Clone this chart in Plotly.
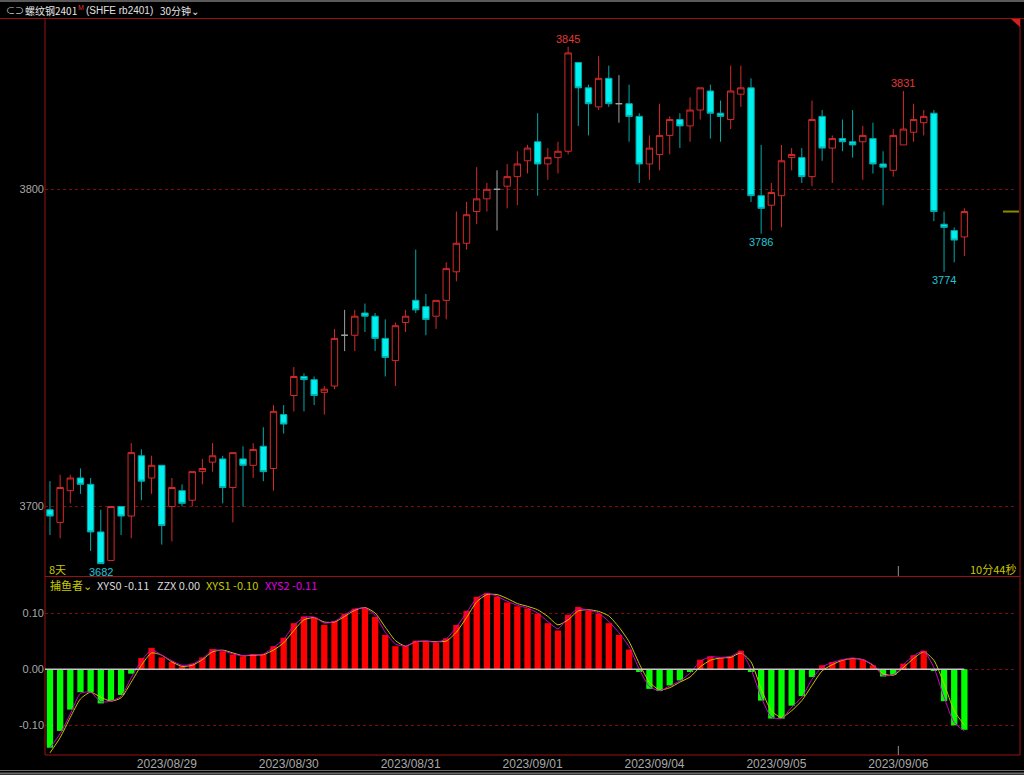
import plotly.graph_objects as go

# ---------------- data ----------------
OPEN = [3699, 3695, 3705, 3709, 3707, 3692, 3683, 3700, 3697, 3716,
        3709, 3713, 3700, 3705, 3702, 3711, 3714, 3715, 3706, 3715,
        3713, 3719, 3712, 3729, 3735, 3741, 3740, 3736, 3738, 3754,
        3754, 3761, 3760, 3753, 3746, 3758, 3765, 3763, 3760, 3765,
        3774, 3783, 3793, 3797, 3800, 3801, 3804, 3809, 3815, 3808,
        3810, 3812, 3840, 3832, 3826, 3835, 3827, 3827, 3823, 3808,
        3811, 3817, 3822, 3820, 3825, 3831, 3824, 3822, 3830, 3832,
        3798, 3795, 3798, 3810, 3810, 3804, 3823, 3813, 3816, 3815,
        3815, 3816, 3808, 3806, 3814, 3818, 3821, 3824, 3789, 3787,
        3785]
HIGH = [3708, 3710, 3710, 3712, 3709, 3699, 3700, 3700, 3720, 3718,
        3716, 3713, 3709, 3707, 3711, 3715, 3720, 3716, 3717, 3719,
        3720, 3725, 3732, 3732, 3744, 3742, 3741, 3738, 3756, 3762,
        3762, 3764, 3761, 3759, 3758, 3762, 3781, 3767, 3765, 3777,
        3793, 3796, 3807, 3802, 3806, 3808, 3812, 3814, 3824, 3813,
        3815, 3845, 3840, 3833, 3842, 3839, 3836, 3833, 3824, 3817,
        3827, 3823, 3824, 3829, 3832, 3833, 3828, 3839, 3839, 3835,
        3814, 3802, 3814, 3813, 3813, 3828, 3825, 3817, 3822, 3825,
        3820, 3821, 3812, 3819, 3831, 3827, 3825, 3825, 3793, 3788,
        3794]
LOW = [3691, 3690, 3701, 3704, 3686, 3682, 3683, 3691, 3690, 3702,
       3704, 3688, 3689, 3700, 3700, 3707, 3711, 3701, 3695, 3700,
       3709, 3708, 3705, 3723, 3730, 3730, 3732, 3729, 3737, 3749,
       3749, 3755, 3749, 3741, 3738, 3755, 3761, 3754, 3756, 3759,
       3771, 3781, 3789, 3793, 3787, 3794, 3795, 3805, 3798, 3803,
       3805, 3811, 3820, 3817, 3825, 3826, 3821, 3815, 3802, 3803,
       3806, 3811, 3813, 3815, 3822, 3816, 3815, 3819, 3826, 3796,
       3786, 3787, 3788, 3806, 3802, 3801, 3809, 3802, 3812, 3810,
       3803, 3805, 3795, 3804, 3814, 3815, 3817, 3790, 3774, 3777,
       3779]
CLOSE = [3697, 3706, 3709, 3707, 3692, 3682, 3700, 3697, 3717, 3708,
         3713, 3694, 3706, 3701, 3711, 3712, 3716, 3706, 3717, 3713,
         3718, 3711, 3730, 3726, 3741, 3740, 3735, 3737, 3753, 3754,
         3760, 3760, 3753, 3747, 3757, 3760, 3762, 3759, 3765, 3775,
         3783, 3792, 3797, 3800, 3800, 3804, 3808, 3813, 3808, 3810,
         3812, 3843, 3832, 3827, 3835, 3827, 3827, 3823, 3808, 3813,
         3817, 3822, 3820, 3825, 3832, 3824, 3823, 3831, 3832, 3798,
         3794, 3799, 3809, 3811, 3804, 3822, 3813, 3816, 3815, 3814,
         3817, 3808, 3807, 3817, 3819, 3822, 3823, 3793, 3788, 3784,
         3793]

XYS0 = [-0.140, -0.110, -0.072, -0.041, -0.041, -0.061, -0.056, -0.046, -0.008, 0.020,
        0.038, 0.021, 0.013, 0.005, 0.010, 0.021, 0.036, 0.032, 0.026, 0.023,
        0.027, 0.027, 0.041, 0.056, 0.082, 0.094, 0.092, 0.079, 0.086, 0.099,
        0.108, 0.109, 0.093, 0.061, 0.041, 0.041, 0.051, 0.050, 0.047, 0.055,
        0.079, 0.104, 0.129, 0.136, 0.129, 0.119, 0.112, 0.108, 0.099, 0.082,
        0.069, 0.097, 0.111, 0.104, 0.099, 0.082, 0.061, 0.035, -0.005, -0.035,
        -0.039, -0.029, -0.020, -0.005, 0.017, 0.023, 0.020, 0.023, 0.033, -0.005,
        -0.056, -0.088, -0.088, -0.065, -0.048, -0.014, 0.007, 0.013, 0.017, 0.020,
        0.017, 0.007, -0.013, -0.010, 0.010, 0.025, 0.033, -0.002, -0.057, -0.100,
        -0.108]
XYS1 = [-0.149, -0.122, -0.086, -0.053, -0.041, -0.050, -0.057, -0.051, -0.023, 0.007,
        0.029, 0.025, 0.013, 0.005, 0.007, 0.017, 0.031, 0.034, 0.029, 0.024,
        0.025, 0.026, 0.034, 0.047, 0.069, 0.088, 0.092, 0.084, 0.084, 0.094,
        0.105, 0.110, 0.100, 0.075, 0.051, 0.041, 0.049, 0.050, 0.049, 0.050,
        0.066, 0.092, 0.120, 0.133, 0.133, 0.126, 0.117, 0.112, 0.106, 0.094,
        0.079, 0.088, 0.104, 0.106, 0.103, 0.095, 0.075, 0.049, 0.010, -0.023,
        -0.037, -0.033, -0.023, -0.014, 0.004, 0.016, 0.020, 0.021, 0.029, 0.013,
        -0.035, -0.074, -0.086, -0.074, -0.056, -0.029, -0.003, 0.008, 0.016, 0.019,
        0.017, 0.007, -0.008, -0.011, 0.003, 0.019, 0.031, 0.016, -0.026, -0.074,
        -0.100]
XYS2 = [-0.140, -0.115, -0.080, -0.043, -0.041, -0.058, -0.057, -0.048, -0.015, 0.015,
        0.034, 0.025, 0.015, 0.007, 0.009, 0.019, 0.034, 0.033, 0.027, 0.024,
        0.026, 0.027, 0.039, 0.053, 0.078, 0.092, 0.093, 0.082, 0.085, 0.097,
        0.107, 0.109, 0.096, 0.066, 0.045, 0.041, 0.049, 0.050, 0.048, 0.054,
        0.075, 0.101, 0.126, 0.135, 0.130, 0.121, 0.114, 0.109, 0.100, 0.085,
        0.072, 0.093, 0.108, 0.105, 0.100, 0.085, 0.065, 0.040, 0.000, -0.031,
        -0.038, -0.030, -0.021, -0.007, 0.014, 0.022, 0.021, 0.023, 0.031, 0.000,
        -0.050, -0.085, -0.088, -0.068, -0.050, -0.018, 0.004, 0.012, 0.017, 0.020,
        0.017, 0.008, -0.011, -0.010, 0.008, 0.024, 0.032, 0.003, -0.050, -0.095,
        -0.110]
ZZX = 0.0

DAYS = ["2023/08/28", "2023/08/29", "2023/08/30", "2023/08/31",
        "2023/09/01", "2023/09/04", "2023/09/05", "2023/09/06"]
BARS_PER_DAY = [12, 12, 12, 12, 12, 12, 12, 7]
PRICE_TICKS = [3700, 3800]
IND_TICKS = [-0.10, 0.00, 0.10]
EXTREMES = [(5, "low"), (51, "high"), (70, "low"), (84, "high"), (88, "low")]

SYMBOL = "螺纹钢2401"
CODE = "(SHFE rb2401)"
PERIOD = "30分钟"
INDICATOR = "捕鱼者"
DAYS_TEXT = "8天"
COUNTDOWN = "10分44秒"

# ---------------- styling ----------------
W, H = 1024, 775
BG = "#000000"
FRAME = "#9a1010"
GRID = "#7a0c0c"
AXIS_TXT = "#a8a8a8"
UP = "#d42a2a"
DOWN_FILL = "#00f0f0"
DOWN_LINE = "#00aaaa"
DOJI = "#a0a0a0"
BAR_UP = "#ff0000"
BAR_DN = "#00ff00"
YEL = "#c8c800"
MAG = "#d000d0"
FONT = "Liberation Sans, Noto Sans CJK SC, sans-serif"
CJK = "Noto Sans CJK SC, Liberation Sans, sans-serif"


def px(x):
    return x / W


def py(y):
    return 1 - y / H


n = len(CLOSE)
idx = list(range(n))

X_RANGE = [-0.49, 95.18]
Y_RANGE = [3678.1, 3853.7]
Y2_RANGE = [-0.1529, 0.1643]

starts = []
s = 0
for c in BARS_PER_DAY:
    starts.append(s)
    s += c
tickvals = [st - 0.5 for st in starts[1:]]
ticktext = DAYS[1:]

fig = go.Figure()


def sub(lst, ids):
    return [lst[i] for i in ids]


groups = [
    ([i for i in idx if CLOSE[i] > OPEN[i]], dict(line=dict(color=UP, width=1), fillcolor=BG)),
    ([i for i in idx if CLOSE[i] < OPEN[i]], dict(line=dict(color=DOWN_LINE, width=1), fillcolor=DOWN_FILL)),
    ([i for i in idx if CLOSE[i] == OPEN[i]], dict(line=dict(color=DOJI, width=1), fillcolor=DOJI)),
]
for ids, style in groups:
    fig.add_trace(go.Candlestick(
        x=ids, open=sub(OPEN, ids), high=sub(HIGH, ids), low=sub(LOW, ids), close=sub(CLOSE, ids),
        increasing=style, decreasing=style, whiskerwidth=0,
        xaxis="x", yaxis="y", hoverinfo="skip", showlegend=False))

fig.add_trace(go.Bar(
    x=idx, y=XYS0, width=0.62,
    marker=dict(color=[BAR_UP if v >= 0 else BAR_DN for v in XYS0], line=dict(width=0)),
    xaxis="x2", yaxis="y2", hoverinfo="skip", showlegend=False))
fig.add_trace(go.Scatter(
    x=idx, y=XYS1, mode="lines", line=dict(color=YEL, width=1, shape="spline", smoothing=0.6),
    xaxis="x2", yaxis="y2", hoverinfo="skip", showlegend=False))
fig.add_trace(go.Scatter(
    x=idx, y=XYS2, mode="lines", line=dict(color=MAG, width=1, shape="spline", smoothing=0.6),
    xaxis="x2", yaxis="y2", hoverinfo="skip", showlegend=False))

shapes = []
shapes.append(dict(type="line", xref="paper", yref="paper", x0=0, x1=1, y0=py(1), y1=py(1),
                   line=dict(color="#5a5a5a", width=2)))
shapes.append(dict(type="line", xref="paper", yref="paper", x0=0, x1=1, y0=py(18.5), y1=py(18.5),
                   line=dict(color=FRAME, width=1)))
shapes.append(dict(type="line", xref="paper", yref="paper", x0=px(45), x1=px(45), y0=py(18.5), y1=py(755),
                   line=dict(color=FRAME, width=1)))
shapes.append(dict(type="line", xref="paper", yref="paper", x0=px(1020), x1=px(1020), y0=py(18.5), y1=py(755),
                   line=dict(color=FRAME, width=1)))
shapes.append(dict(type="line", xref="paper", yref="paper", x0=px(45), x1=px(1020), y0=py(576.5), y1=py(576.5),
                   line=dict(color=FRAME, width=1)))
shapes.append(dict(type="line", xref="paper", yref="paper", x0=px(45), x1=px(1020), y0=py(755), y1=py(755),
                   line=dict(color=FRAME, width=1)))
shapes.append(dict(type="line", xref="paper", yref="paper", x0=0, x1=1, y0=py(770.5), y1=py(770.5),
                   line=dict(color="#6a6a6a", width=1)))
shapes.append(dict(type="line", xref="paper", yref="paper", x0=0, x1=1, y0=py(773.5), y1=py(773.5),
                   line=dict(color="#6a6a6a", width=2)))
shapes.append(dict(type="path", xref="paper", yref="paper",
                   path=f"M {px(1011)},{py(19)} L {px(1020)},{py(19)} L {px(1020)},{py(27)} Z",
                   fillcolor="#d02020", line=dict(width=0)))
shapes.append(dict(type="line", xref="x2", yref="y2", x0=X_RANGE[0], x1=n - 1, y0=ZZX, y1=ZZX,
                   line=dict(color="#c8c8c8", width=1.5), layer="above"))
shapes.append(dict(type="line", xref="paper", yref="y", x0=px(1003), x1=px(1019), y0=CLOSE[-1], y1=CLOSE[-1],
                   line=dict(color="#8a8a00", width=2)))
cur = tickvals[-1]
shapes.append(dict(type="line", xref="x", yref="paper", x0=cur, x1=cur, y0=py(576), y1=py(566),
                   line=dict(color="#909090", width=1)))
shapes.append(dict(type="line", xref="x2", yref="paper", x0=cur, x1=cur, y0=py(755), y1=py(746),
                   line=dict(color="#909090", width=1)))

ann = []
for i, kind in EXTREMES:
    if kind == "high":
        ann.append(dict(x=i, y=HIGH[i], xref="x", yref="y", text=str(HIGH[i]), showarrow=False,
                        yanchor="bottom", yshift=0, font=dict(color="#e03a3a", size=11, family=FONT)))
    else:
        ann.append(dict(x=i, y=LOW[i], xref="x", yref="y", text=str(LOW[i]), showarrow=False,
                        yanchor="top", yshift=0, font=dict(color="#22c4d4", size=11, family=FONT)))

# header
ann.append(dict(x=px(4), y=py(10.5), xref="paper", yref="paper", text="⊂⊃", showarrow=False,
                xanchor="left", yanchor="middle", font=dict(color="#c8c8c8", size=9, family=FONT)))
ann.append(dict(x=px(23), y=py(10.5), xref="paper", yref="paper", text=SYMBOL, showarrow=False,
                xanchor="left", yanchor="middle", font=dict(color="#e6e6e6", size=10, family=CJK)))
ann.append(dict(x=px(76), y=py(7), xref="paper", yref="paper", text="M", showarrow=False,
                xanchor="left", yanchor="middle", font=dict(color="#e03030", size=7, family=FONT)))
ann.append(dict(x=px(84), y=py(10.5), xref="paper", yref="paper", text=CODE, showarrow=False,
                xanchor="left", yanchor="middle", font=dict(color="#e0e0e0", size=10, family=FONT)))
ann.append(dict(x=px(158), y=py(10.5), xref="paper", yref="paper", text=PERIOD + "⌄", showarrow=False,
                xanchor="left", yanchor="middle", font=dict(color="#e6e6e6", size=10, family=CJK)))
ann.append(dict(x=px(47), y=py(568.5), xref="paper", yref="paper", text=DAYS_TEXT, showarrow=False,
                xanchor="left", yanchor="middle", font=dict(color=YEL, size=11, family=CJK)))
ann.append(dict(x=px(1018), y=py(569), xref="paper", yref="paper", text=COUNTDOWN, showarrow=False,
                xanchor="right", yanchor="middle", font=dict(color=YEL, size=11, family=CJK)))
legend_items = [
    (48, f"{INDICATOR}⌄", YEL),
    (95, f"XYS0 {XYS0[-1]:.2f}", "#d8d8d8"),
    (155, f"ZZX {ZZX:.2f}", "#d8d8d8"),
    (204, f"XYS1 {XYS1[-1]:.2f}", YEL),
    (263, f"XYS2 {XYS2[-1]:.2f}", "#e000e0"),
]
for xpix, txt, col in legend_items:
    ann.append(dict(x=px(xpix), y=py(584.5), xref="paper", yref="paper", text=txt, showarrow=False,
                    xanchor="left", yanchor="middle", font=dict(color=col, size=11, family=CJK)))

fig.update_layout(
    width=W, height=H,
    margin=dict(l=0, r=0, t=0, b=0),
    paper_bgcolor=BG, plot_bgcolor=BG,
    showlegend=False, hovermode=False,
    boxgap=0.1, bargap=0.3,
    font=dict(family=FONT, color=AXIS_TXT, size=11),
    xaxis=dict(domain=[px(45), px(1017)], range=X_RANGE, anchor="y", showticklabels=False,
               showgrid=False, zeroline=False, showline=False, ticks="",
               rangeslider=dict(visible=False), fixedrange=True),
    yaxis=dict(domain=[py(576), py(19)], range=Y_RANGE, anchor="x", tickvals=PRICE_TICKS,
               ticktext=[str(v) for v in PRICE_TICKS], showgrid=True, gridcolor=GRID, griddash="dot",
               gridwidth=1, zeroline=False, showline=False, ticks="",
               tickfont=dict(color=AXIS_TXT, size=11, family=FONT), fixedrange=True),
    xaxis2=dict(domain=[px(45), px(1017)], range=X_RANGE, anchor="y2", tickvals=tickvals, ticktext=ticktext,
                showgrid=False, zeroline=False, showline=False, ticks="",
                tickfont=dict(color=AXIS_TXT, size=12, family=FONT), fixedrange=True),
    yaxis2=dict(domain=[py(755), py(577)], range=Y2_RANGE, anchor="x2", tickvals=IND_TICKS,
                ticktext=[f"{v:.2f}" for v in IND_TICKS], showgrid=True, gridcolor=GRID, griddash="dot",
                gridwidth=1, zeroline=False, showline=False, ticks="",
                tickfont=dict(color=AXIS_TXT, size=11, family=FONT), fixedrange=True),
    shapes=shapes,
    annotations=ann,
)

fig.write_html("out.html", config=dict(displayModeBar=False),
               post_script="document.body.style.margin='0';document.body.style.overflow='hidden';")
